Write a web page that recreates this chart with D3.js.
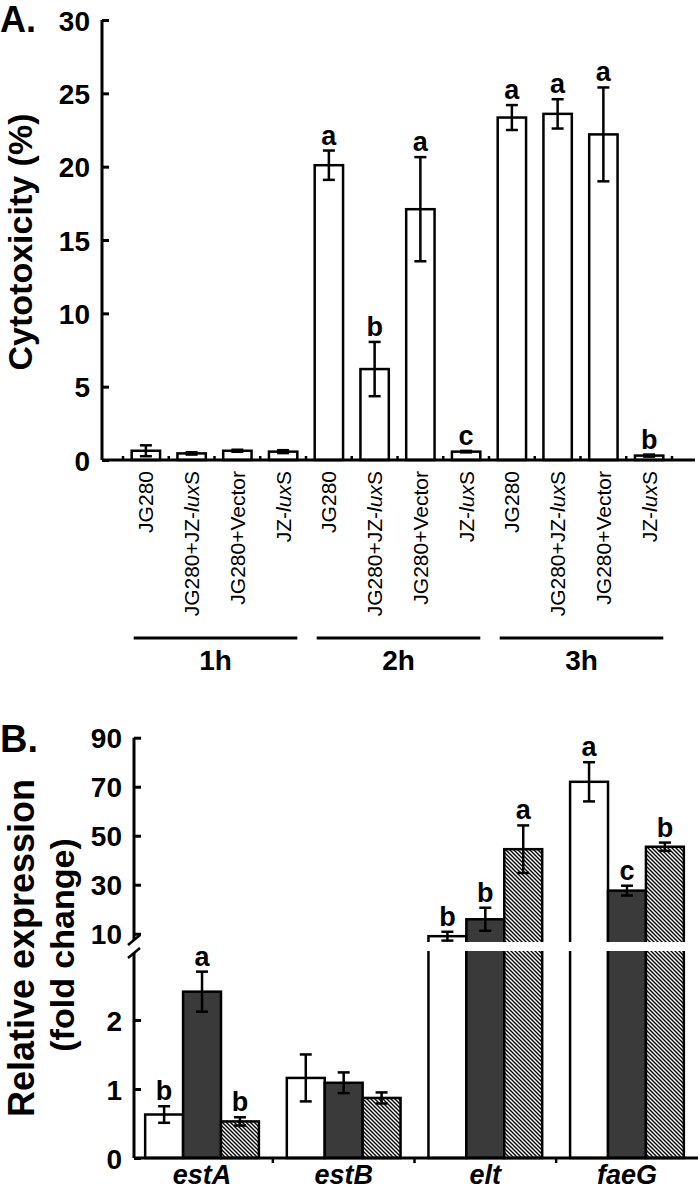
<!DOCTYPE html>
<html><head><meta charset="utf-8">
<script src="https://cdn.jsdelivr.net/npm/d3@7"></script>
<style>
html,body{margin:0;padding:0;background:#fff;}
svg{display:block;font-family:"Liberation Sans",Arial,sans-serif;}
</style></head>
<body><svg id="c" width="700" height="1193"></svg>
<script>
// ---------- Panel A data ----------
const timeGroups = ["1h","2h","3h"];
const strains = ["JG280","JG280+JZ-luxS","JG280+Vector","JZ-luxS"];
const cytoMean = [0.63,0.45,0.63,0.57, 20.1,6.2,17.1,0.57, 23.35,23.6,22.2,0.3];
const cytoErr  = [0.37,0.08,0.07,0.1,  1.0,1.85,3.55,0.05, 0.85,1.0,3.2,0.07];
const cytoLetters = ["","","","", "a","b","a","c", "a","a","a","b"];
const yTicksA = [0,5,10,15,20,25,30];

// ---------- Panel B data ----------
const genes = ["estA","estB","elt","faeG"];
const exprWhite = [0.63,1.16,9.0,72];
const exprDark  = [2.41,1.09,15.9,27.6];
const exprHatch = [0.53,0.87,44.5,45.5];
const errWhite = [0.12,0.34,1.8,8];
const errDark  = [0.29,0.15,4.7,2];
const errHatch = [0.06,0.08,9.7,1.7];
const letWhite = ["b","","b","a"];
const letDark  = ["a","","b","c"];
const letHatch = ["b","","a","b"];
const yTicksUpper = [10,30,50,70,90];
const yTicksLower = [0,1,2];

const svg = d3.select("#c");
const defs = svg.append("defs");
const pat = defs.append("pattern").attr("id","hatch").attr("patternUnits","userSpaceOnUse")
  .attr("width",4).attr("height",4);
pat.append("rect").attr("width",4).attr("height",4).attr("fill","#fff");
pat.append("path").attr("d","M-1,-1L5,5M-1,3L1,5M3,-1L5,1").attr("stroke","#000").attr("stroke-width",1.4);

const FONT = "Liberation Sans, Arial, sans-serif";

// ================= Panel A =================
const axA = 102, x0A = 123, x1A = 672, axEndA = 695;
const yA = d3.scaleLinear().domain([0,30]).range([460,20]);
const catsA = [];
timeGroups.forEach(g=>strains.forEach(s=>catsA.push(g+"|"+s)));
const xA = d3.scaleBand().domain(catsA).range([x0A,x1A]).paddingInner(0.38).paddingOuter(0.19);

const gA = svg.append("g");
const dataA = catsA.map((c,i)=>({c, strain:c.split("|")[1], v:cytoMean[i], e:cytoErr[i], l:cytoLetters[i]}));
gA.selectAll("rect.bar").data(dataA).join("rect")
  .attr("x",d=>xA(d.c)).attr("width",xA.bandwidth())
  .attr("y",d=>yA(d.v)).attr("height",d=>yA(0)-yA(d.v))
  .attr("fill","#fff").attr("stroke","#000").attr("stroke-width",2.5);
const cap = 6;
dataA.forEach(d=>{
  const cx = xA(d.c)+xA.bandwidth()/2;
  const g = gA.append("g").attr("stroke","#000").attr("stroke-width",2.5);
  g.append("line").attr("x1",cx).attr("x2",cx).attr("y1",yA(d.v+d.e)).attr("y2",yA(d.v-d.e));
  g.append("line").attr("x1",cx-cap).attr("x2",cx+cap).attr("y1",yA(d.v+d.e)).attr("y2",yA(d.v+d.e));
  g.append("line").attr("x1",cx-cap).attr("x2",cx+cap).attr("y1",yA(d.v-d.e)).attr("y2",yA(d.v-d.e));
  if(d.l) gA.append("text").attr("x",cx).attr("y",yA(d.v+d.e)-6).attr("text-anchor","middle")
    .attr("font-size",27).attr("font-weight","bold").attr("font-family",FONT).text(d.l);
});
const yAxisA = d3.axisRight(yA).tickValues(yTicksA).tickSize(7).tickFormat(d3.format("d"));
const gy = gA.append("g").attr("transform",`translate(${axA},0)`).call(yAxisA);
gy.select(".domain").attr("d",`M0,${yA(30)}V${yA(0)}`).attr("stroke","#000").attr("stroke-width",3);
gy.selectAll(".tick line").attr("stroke","#000").attr("stroke-width",3);
gy.selectAll(".tick text").attr("x",-12).attr("text-anchor","end").attr("dy","0.36em")
  .attr("font-size",28).attr("font-weight","bold").attr("font-family",FONT).attr("fill","#000");
gA.append("line").attr("x1",axA).attr("x2",axEndA).attr("y1",yA(0)).attr("y2",yA(0)).attr("stroke","#000").attr("stroke-width",3);
const bnd = catsA.map(c=>xA(c)-xA.step()*xA.paddingInner()/2);
bnd.push(xA(catsA[catsA.length-1])+xA.bandwidth()+xA.step()*xA.paddingInner()/2);
gA.selectAll("line.tk").data(bnd).join("line").attr("x1",d=>d).attr("x2",d=>d)
  .attr("y1",yA(0)).attr("y2",yA(0)-4).attr("stroke","#000").attr("stroke-width",2.5);
dataA.forEach(d=>{
  const cx = xA(d.c)+xA.bandwidth()/2;
  const t = gA.append("text").attr("transform",`translate(${cx},471) rotate(-90)`)
    .attr("text-anchor","end").attr("dy","0.36em").attr("font-size",21).attr("font-family",FONT);
  const s = d.strain;
  const m = s.match(/^(.*JZ-)lux(S)$/);
  if(m){ t.append("tspan").text(m[1]); t.append("tspan").attr("font-style","italic").text("lux"); t.append("tspan").text(m[2]); }
  else t.text(s);
});
timeGroups.forEach((g,gi)=>{
  const first = xA(g+"|"+strains[0]), last = xA(g+"|"+strains[3])+xA.bandwidth();
  const xs = first+2, xe = last;
  gA.append("line").attr("x1",xs).attr("x2",xe).attr("y1",638).attr("y2",638).attr("stroke","#000").attr("stroke-width",3);
  gA.append("text").attr("x",(xs+xe)/2).attr("y",670).attr("text-anchor","middle")
    .attr("font-size",28).attr("font-weight","bold").attr("font-family",FONT).text(g);
});
svg.append("text").attr("transform","translate(32,242) rotate(-90)").attr("text-anchor","middle")
  .attr("font-size",34).attr("font-weight","bold").attr("font-family",FONT).text("Cytotoxicity (%)");
svg.append("text").attr("x",0).attr("y",32).attr("font-size",36).attr("font-weight","bold").attr("font-family",FONT).text("A.");

// ================= Panel B =================
const axB = 134, axEndB = 698;
const yL = d3.scaleLinear().domain([0,2.97]).range([1158,953]);
const yU = d3.scaleLinear().domain([7.2,90]).range([940.6,737.7]);
const gapTop = 942, gapBot = 951;
const xB = d3.scaleBand().domain(genes).range([axB-3,axEndB]).paddingInner(0.197).paddingOuter(0.1);
const series = [
  {key:"white", vals:exprWhite, errs:errWhite, lets:letWhite, fill:"#fff"},
  {key:"dark",  vals:exprDark,  errs:errDark,  lets:letDark,  fill:"#3a3a3a"},
  {key:"hatch", vals:exprHatch, errs:errHatch, lets:letHatch, fill:"url(#hatch)"}
];
const xS = d3.scaleBand().domain(series.map(s=>s.key)).range([0,xB.bandwidth()]);
const yVal = v => v<=2.97 ? yL(v) : yU(Math.max(v,7.2));
const gB = svg.append("g");
series.forEach(s=>{
  genes.forEach((g,i)=>{
    const v = s.vals[i], x = xB(g)+xS(s.key), w = xS.bandwidth();
    if(v<=2.97){
      gB.append("rect").attr("x",x).attr("width",w).attr("y",yL(v)).attr("height",yL(0)-yL(v))
        .attr("fill",s.fill).attr("stroke","#000").attr("stroke-width",2.5);
    } else {
      gB.append("rect").attr("x",x).attr("width",w).attr("y",gapTop+3).attr("height",yL(0)-gapTop-3)
        .attr("fill",s.fill).attr("stroke","#000").attr("stroke-width",2.5);
      gB.append("rect").attr("x",x).attr("width",w).attr("y",yU(v)).attr("height",gapBot-3-yU(v))
        .attr("fill",s.fill).attr("stroke","#000").attr("stroke-width",2.5);
    }
  });
});
gB.append("rect").attr("x",axB+2).attr("width",axEndB-axB).attr("y",gapTop).attr("height",gapBot-gapTop).attr("fill","#fff");
series.forEach(s=>{
  genes.forEach((g,i)=>{
    const v = s.vals[i], e = s.errs[i];
    const cx = xB(g)+xS(s.key)+xS.bandwidth()/2;
    const yt = yVal(v+e), yb = yVal(v-e);
    const eg = gB.append("g").attr("stroke","#000").attr("stroke-width",2.5);
    eg.append("line").attr("x1",cx).attr("x2",cx).attr("y1",yt).attr("y2",yb);
    eg.append("line").attr("x1",cx-cap).attr("x2",cx+cap).attr("y1",yt).attr("y2",yt);
    eg.append("line").attr("x1",cx-cap).attr("x2",cx+cap).attr("y1",yb).attr("y2",yb);
    if(s.lets[i]) gB.append("text").attr("x",cx).attr("y",yt-6).attr("text-anchor","middle")
      .attr("font-size",27).attr("font-weight","bold").attr("font-family",FONT).text(s.lets[i]);
  });
});
function styleAxis(g){
  g.selectAll(".tick line").attr("stroke","#000").attr("stroke-width",3);
  g.selectAll(".tick text").attr("x",-12).attr("text-anchor","end").attr("dy","0.36em")
    .attr("font-size",28).attr("font-weight","bold").attr("font-family",FONT).attr("fill","#000");
}
const gU = gB.append("g").attr("transform",`translate(${axB},0)`)
  .call(d3.axisRight(yU).tickValues(yTicksUpper).tickSize(7).tickFormat(d3.format("d")));
gU.select(".domain").attr("d",`M0,${yU(90)}V${gapTop-2}`).attr("stroke","#000").attr("stroke-width",3);
styleAxis(gU);
const gL = gB.append("g").attr("transform",`translate(${axB},0)`)
  .call(d3.axisRight(yL).tickValues(yTicksLower).tickSize(7).tickFormat(d3.format("d")));
gL.select(".domain").attr("d",`M0,${gapBot+2}V${yL(0)}`).attr("stroke","#000").attr("stroke-width",3);
styleAxis(gL);
[gapTop-2, gapBot+2].forEach(y=>{
  gB.append("line").attr("x1",axB-6).attr("x2",axB+6).attr("y1",y+5).attr("y2",y-5).attr("stroke","#000").attr("stroke-width",2.5);
});
gB.append("line").attr("x1",axB).attr("x2",axEndB).attr("y1",yL(0)).attr("y2",yL(0)).attr("stroke","#000").attr("stroke-width",3);
const bndB = genes.slice(1).map(g=>xB(g)-xB.step()*xB.paddingInner()/2);
gB.selectAll("line.tkb").data(bndB).join("line").attr("x1",d=>d).attr("x2",d=>d)
  .attr("y1",yL(0)).attr("y2",yL(0)+5).attr("stroke","#000").attr("stroke-width",2.5);
genes.forEach(g=>{
  gB.append("text").attr("x",xB(g)+xB.bandwidth()/2).attr("y",1184).attr("text-anchor","middle")
    .attr("font-size",27).attr("font-weight","bold").attr("font-style","italic").attr("font-family",FONT).text(g);
});
svg.append("text").attr("transform","translate(34,948) rotate(-90)").attr("text-anchor","middle")
  .attr("font-size",36).attr("font-weight","bold").attr("font-family",FONT).text("Relative expression");
svg.append("text").attr("transform","translate(74,945) rotate(-90)").attr("text-anchor","middle")
  .attr("font-size",34).attr("font-weight","bold").attr("font-family",FONT).text("(fold change)");
svg.append("text").attr("x",0).attr("y",752).attr("font-size",38).attr("font-weight","bold").attr("font-family",FONT).text("B.");
</script></body></html>
